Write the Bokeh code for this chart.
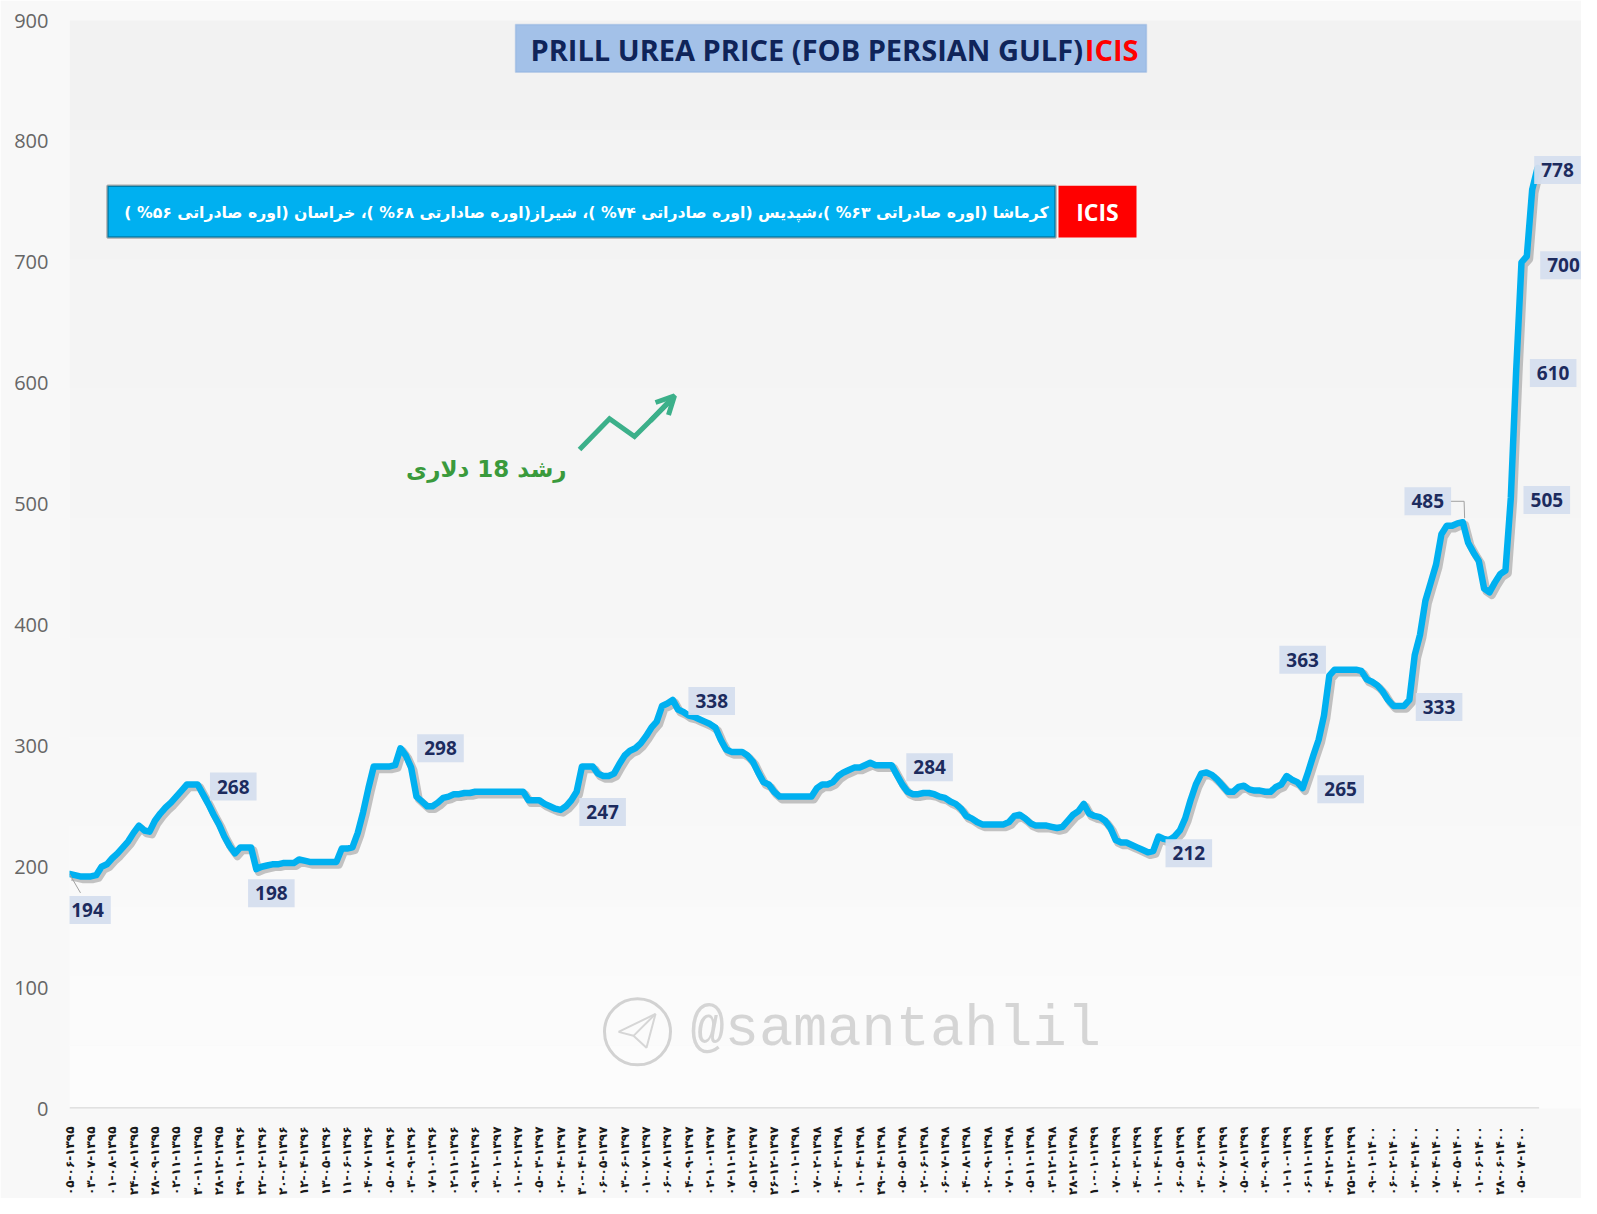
import math
from bokeh.plotting import figure
from bokeh.models import Range1d, FixedTicker, Label, BoxAnnotation, Arrow, OpenHead
from bokeh.embed import file_html
from bokeh.resources import INLINE

# ---------------- data ----------------
prices = [
    194, 193, 192, 192,  192, 193, 200, 202,  207, 211, 216, 221,  228, 234, 230, 229,
    238, 244, 249, 253,  258, 263, 268, 268,  268, 260, 252, 243,  235, 225, 217, 211,
    216, 216, 216, 198,  200, 201, 202, 202,  203, 203, 203, 206,  205, 204, 204, 204,
    204, 204, 204, 215,  215, 216, 228, 245,  265, 283, 283, 283,  283, 284, 298, 292,
    282, 258, 254, 250,  250, 253, 257, 258,  260, 260, 261, 261,  262, 262, 262, 262,
    262, 262, 262, 262,  262, 262, 255, 255,  255, 252, 250, 248,  247, 250, 255, 262,
    283, 283, 283, 277,  275, 275, 277, 285,  292, 296, 298, 302,  308, 315, 320, 333,
    335, 338, 330, 328,  325, 324, 322, 320,  318, 315, 305, 297,  295, 295, 295, 292,
    287, 278, 270, 268,  262, 258, 258, 258,  258, 258, 258, 258,  265, 268, 268, 270,
    275, 278, 280, 282,  282, 284, 286, 284,  284, 284, 284, 276,  268, 262, 260, 260,
    261, 261, 260, 258,  257, 254, 252, 248,  242, 240, 237, 235,  235, 235, 235, 235,
    237, 242, 243, 240,  236, 234, 234, 234,  233, 232, 233, 238,  243, 246, 252, 244,
    242, 241, 238, 232,  222, 220, 220, 218,  216, 214, 212, 213,  225, 223, 222, 225,
    230, 240, 255, 268,  277, 278, 276, 272,  267, 262, 262, 266,  267, 264, 263, 263,
    262, 262, 266, 268,  275, 272, 270, 265,  278, 292, 305, 325,  358, 363, 363, 363,
    363, 363, 362, 355,  353, 350, 345, 338,  333, 333, 333, 338,  375, 392, 420, 435,
    450, 475, 482, 482,  484, 485, 468, 460,  453, 430, 427, 435,  442, 445, 505, 610,
    700, 705, 760, 778,
]

# x-axis tick labels (Persian calendar dates, one every 4 data points)
date_labels = [
    "05-06-1395", "03-07-1395", "01-08-1395", "24-08-1395", "28-09-1395", "02-11-1395",
    "30-11-1395", "28-12-1395",
    "29-01-1396", "22-02-1396", "20-03-1396", "12-04-1396", "13-05-1396", "11-06-1396",
    "04-07-1396", "05-08-1396", "03-09-1396", "07-10-1396", "02-11-1396", "09-12-1396",
    "03-01-1397", "01-02-1397", "05-03-1397", "02-04-1397", "30-04-1397", "06-05-1397",
    "03-06-1397", "01-07-1397", "06-08-1397", "04-09-1397", "02-10-1397", "07-11-1397",
    "05-12-1397", "26-12-1397",
    "10-01-1398", "07-02-1398", "04-03-1398", "01-04-1398", "29-04-1398", "05-05-1398",
    "02-06-1398", "06-07-1398", "04-08-1398", "02-09-1398", "07-10-1398", "05-11-1398",
    "03-12-1398", "28-12-1398",
    "10-01-1399", "07-02-1399", "04-03-1399", "01-04-1399", "06-05-1399", "03-06-1399",
    "07-07-1399", "05-08-1399", "03-09-1399", "01-10-1399", "06-11-1399", "04-12-1399",
    "25-12-1399",
    "09-01-1400", "06-02-1400", "03-03-1400", "07-04-1400", "04-05-1400", "01-06-1400",
    "28-06-1400", "05-07-1400",
]
label_step = 4

y_ticks = [0, 100, 200, 300, 400, 500, 600, 700, 800, 900]

# data labels: index of the labelled point, and pixel offset of its box
callout_idx = [0, 23, 35, 62, 92, 113, 154, 202, 231, 237, 250, 261, 270, 271, 272, 275]
callout_dx = [18, 41, 15, 40, 42, 39, 38, 41, 38, -32, 35, -35, 36, 37, 42, 20]
callout_dy = [-36, -2, -24, 0, -2, -1, -2, -1, -1, 10, -1, 21, -2, -2, -3, -2]

title_main = "PRILL UREA PRICE (FOB PERSIAN GULF)"
title_src = "ICIS"
persian_note = ("کرماشا (اوره صادراتی ۶۳% )،شپدیس (اوره صادراتی ۷۴% )، "
                "شیراز(اوره صادارتی ۶۸% )، خراسان (اوره صادراتی ۵۶% )")
growth_note = "رشد 18 دلاری"
watermark = "@samantahlil"

# ---------------- geometry ----------------
W, H = 1581, 1198
N = len(prices)
XMAX = N - 1
FR_L, FR_T, FR_B = 69, 20, 1113
PX_X = (1537 - FR_L) / XMAX
PX_Y = (FR_B - FR_T) / 900.0
X_END = (W - FR_L) / PX_X


def dx(X):  # picture-pixel x -> data x
    return (X - FR_L) / PX_X


def dy(Y):  # picture-pixel y -> data y
    return (FR_B - Y) / PX_Y


p = figure(width=W, height=H, output_backend="svg", toolbar_location=None,
           x_range=Range1d(0, X_END), y_range=Range1d(0, 900),
           min_border_left=FR_L, min_border_right=0,
           min_border_top=FR_T, min_border_bottom=H - FR_B)
p.background_fill_color = "#f6f6f6"
p.border_fill_color = "#f8f8f8"
p.outline_line_color = None
p.xgrid.visible = False
p.ygrid.visible = False

# soft vertical fade of the background
bands = [(0, 130, "#f2f2f2"), (130, 260, "#f3f3f3"), (260, 390, "#f4f4f4"), (390, 520, "#f5f5f5"),
         (520, 640, "#f6f6f6"), (640, 740, "#f7f7f7"), (740, 830, "#f8f8f8"), (830, 910, "#f9f9f9"),
         (910, 980, "#fafafa"), (980, 1050, "#fbfbfb"), (1050, 1120, "#fcfcfc")]
for y0, y1, c in bands:
    p.add_layout(BoxAnnotation(top=dy(y0), bottom=dy(y1), fill_color=c, fill_alpha=1,
                               line_color=None, level="underlay"))

# ---------------- axes ----------------
fa = str.maketrans("0123456789", "۰۱۲۳۴۵۶۷۸۹")
tick_pos = list(range(0, label_step * len(date_labels), label_step))
xa = p.xaxis[0]
xa.ticker = FixedTicker(ticks=tick_pos)
xa.major_label_overrides = {t: s.translate(fa) for t, s in zip(tick_pos, date_labels)}
xa.major_label_orientation = math.pi / 2
xa.major_label_text_font = "DejaVu Sans"
xa.major_label_text_font_size = "12px"
xa.major_label_text_font_style = "bold"
xa.major_label_text_color = "#1a1a1a"
xa.major_label_standoff = 12
xa.axis_line_color = None
xa.major_tick_line_color = None
xa.minor_tick_line_color = None

ya = p.yaxis[0]
ya.ticker = FixedTicker(ticks=y_ticks)
ya.axis_line_color = None
ya.major_tick_line_color = None
ya.minor_tick_line_color = None
ya.major_label_standoff = 15
ya.major_label_text_font = "Open Sans"
ya.major_label_text_font_size = "20px"
ya.major_label_text_color = "#666666"

# category baseline (the value axis' zero line)
p.line([0, XMAX + 0.3], [0, 0], line_color="#d9d9d9", line_width=2.5)

# ---------------- series ----------------
xs = list(range(N))
p.line([x + 0.45 for x in xs], [v - 2.3 for v in prices], line_color="#000000",
       line_alpha=0.22, line_width=8, line_join="round")
p.line(xs, prices, line_color="#00b0f0", line_width=6.5, line_join="round", line_cap="round")

# leader lines
p.line([0, 11 / PX_X], [prices[0], prices[0] - 19 / PX_Y], line_color="#a0a0a0", line_width=1)
i485 = callout_idx[callout_dy.index(21)]
p.line([i485 - 13 / PX_X, i485 + 0.25, i485 + 0.35],
       [prices[i485] + 21 / PX_Y, prices[i485] + 21 / PX_Y, prices[i485] + 4 / PX_Y],
       line_color="#a0a0a0", line_width=1)

for i, ox, oy in zip(callout_idx, callout_dx, callout_dy):
    p.add_layout(Label(x=i, y=prices[i], x_offset=ox, y_offset=oy, text=str(prices[i]),
                       text_align="center", text_baseline="middle",
                       text_font="Open Sans", text_font_size="19px", text_font_style="bold",
                       text_color="#1c2b5e", background_fill_color="#d5deee",
                       background_fill_alpha=0.95, padding=7))

# ---------------- title box ----------------
p.add_layout(BoxAnnotation(left=dx(515), right=dx(1146), top=dy(24), bottom=dy(72),
                           fill_color="#a3c1e8", fill_alpha=1, line_color="#6f9ad6", line_width=1.5))
p.add_layout(Label(x=dx(530), y=dy(49), text=title_main, text_align="left", text_baseline="middle",
                   text_font="Open Sans", text_font_size="29px", text_font_style="bold",
                   text_color="#0f2459"))
p.add_layout(Label(x=dx(1138), y=dy(49), text=title_src, text_align="right", text_baseline="middle",
                   text_font="Open Sans", text_font_size="29px", text_font_style="bold",
                   text_color="#ff0000"))

# ---------------- producers box ----------------
p.add_layout(BoxAnnotation(left=dx(107), right=dx(1055), top=dy(186), bottom=dy(238),
                           fill_color="#00b0f0", fill_alpha=1, line_color="#000000", line_width=2.5))
p.add_layout(BoxAnnotation(left=dx(1058), right=dx(1136), top=dy(186), bottom=dy(238),
                           fill_color="#ff0000", fill_alpha=1, line_color=None))
p.add_layout(Label(x=dx(1048), y=dy(213), text=persian_note + "\u200f", text_align="right",
                   text_baseline="middle", text_font="DejaVu Sans", text_font_size="15.7px",
                   text_font_style="bold", text_color="#ffffff"))
p.add_layout(Label(x=dx(1097), y=dy(212), text=title_src, text_align="center", text_baseline="middle",
                   text_font="Open Sans", text_font_size="23px", text_font_style="bold",
                   text_color="#ffffff"))

# ---------------- growth note ----------------
p.add_layout(Label(x=dx(566), y=dy(471), text=growth_note, text_align="right", text_baseline="middle",
                   text_font="DejaVu Sans", text_font_size="23px", text_font_style="bold",
                   text_color="#3a9a3c"))
p.line([dx(579), dx(609), dx(634), dx(668)], [dy(451), dy(420), dy(438), dy(404)],
       line_color="#3cb08a", line_width=5, line_join="miter")
p.add_layout(Arrow(end=OpenHead(size=18, line_color="#3cb08a", line_width=5),
                   x_start=dx(650), y_start=dy(422), x_end=dx(674), y_end=dy(397),
                   line_color="#3cb08a", line_width=5))

# ---------------- watermark ----------------
p.scatter([dx(637)], [dy(1036)], size=66, fill_color=None, line_color="#d2d2d2", line_width=3)
p.line([dx(618), dx(655), dx(646), dx(633), dx(618)], [dy(1036), dy(1018), dy(1052), dy(1040), dy(1036)],
       line_color="#d6d6d6", line_width=2)
p.line([dx(633), dx(655)], [dy(1040), dy(1018)], line_color="#d6d6d6", line_width=2)
p.add_layout(Label(x=dx(690), y=dy(1034), text=watermark, text_align="left", text_baseline="middle",
                   text_font="Liberation Mono", text_font_size="57px",
                   text_color="#d0d0d0", text_alpha=0.9))

open("out.html", "w", encoding="utf-8").write(file_html(p, INLINE))
